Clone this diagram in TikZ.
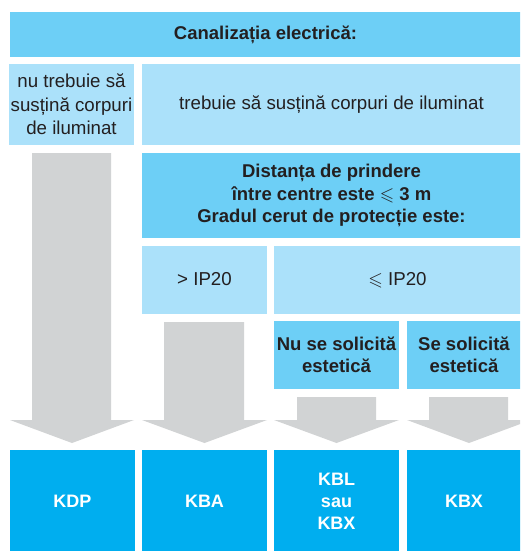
\documentclass[tikz,border=0pt]{standalone}
\usepackage{amssymb}
\usepackage{fontspec}
\setmainfont{Liberation Sans}
\definecolor{midblue}{HTML}{6DCFF6}
\definecolor{lightblue}{HTML}{ABE1FA}
\definecolor{strongblue}{HTML}{00AEEF}
\definecolor{arrowgray}{HTML}{D1D3D4}
\definecolor{txt}{HTML}{231F20}
\tikzset{
  cell/.style={rectangle, inner sep=0pt, outer sep=0pt, align=center, font=\fontsize{18.7}{23.5}\selectfont, text=txt},
  headcell/.style={cell, fill=midblue, font=\bfseries\fontsize{18.5}{22.5}\selectfont},
  subcell/.style={cell, fill=lightblue},
  resultcell/.style={cell, fill=strongblue, text=white, font=\bfseries\fontsize{18}{22}\selectfont},
}
\newcommand\cellnode[7]{% name, x0, y0, x1, y1, style, text
  \node[#6, minimum width={(#4-#2)*1pt}, minimum height={(#5-#3)*1pt}] (#1) at ({(#2+#4)/2},{(#3+#5)/2}) {#7};}
\newcommand\grayarrow[5]{% headleft, headright, top, shaftleft, shaftright
  \fill[arrowgray] (#4,#3) -- (#5,#3) -- (#5,420) -- (#2,420) -- ({(#1+#2)/2},443) -- (#1,420) -- (#4,420) -- cycle;}
\begin{document}
\begin{tikzpicture}[x=1pt,y=-1pt]
\useasboundingbox (0,0) rectangle (520,551);
\clip (0,0) rectangle (520,551);
\fill[white] (0,0) rectangle (520,551);
% arrows
\grayarrow{10}{134}{153}{32}{111}
\grayarrow{142}{267}{322}{164}{244}
\grayarrow{274}{399}{397}{297}{376}
\grayarrow{407}{531}{397}{429}{508}
% boxes
\cellnode{top}{10}{12}{521}{57}{headcell}{Canalizația electrică:}
\cellnode{nu}{9}{64}{134}{145}{subcell}{nu trebuie să\\susțină corpuri\\de iluminat}
\cellnode{da}{142}{64}{521}{145}{subcell}{\raisebox{4pt}{trebuie să susțină corpuri de iluminat}}
\cellnode{dist}{142}{153}{521}{238}{headcell}{Distanța de prindere\\între centre este $\leqslant$ 3 m\\Gradul cerut de protecție este:}
\cellnode{gt}{142}{246}{267}{314}{subcell}{\raisebox{3pt}{> IP20}}
\cellnode{le}{274}{246}{521}{314}{subcell}{$\leqslant$ IP20}
\cellnode{nusol}{274}{321}{399}{389}{headcell}{Nu se solicită\\estetică}
\cellnode{sesol}{407}{321}{521}{389}{headcell}{Se solicită\\estetică}
\cellnode{kdp}{10}{450}{135}{552}{resultcell}{KDP}
\cellnode{kba}{142}{450}{267}{552}{resultcell}{KBA}
\cellnode{kbl}{274}{450}{399}{552}{resultcell}{KBL\\sau\\KBX}
\cellnode{kbx}{407}{450}{521}{552}{resultcell}{KBX}
\end{tikzpicture}
\end{document}
